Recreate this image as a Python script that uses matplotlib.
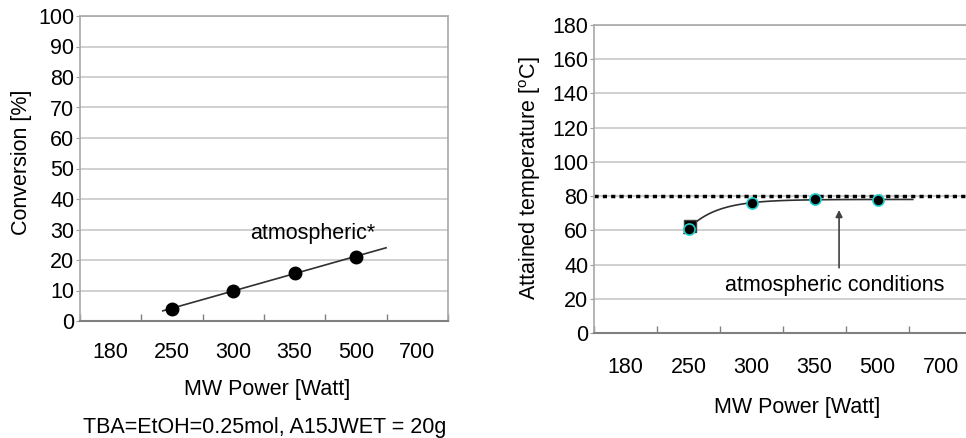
import numpy as np
import matplotlib
matplotlib.use("Agg")
import matplotlib.pyplot as plt

plt.rcParams['font.family'] = ['Liberation Sans', 'DejaVu Sans']

power_labels = ["180", "250", "300", "350", "500", "700"]

# left panel: conversion at atmospheric pressure
conv_idx = [1, 2, 3, 4]
conversion = [4.0, 10.0, 15.8, 21.0]

# right panel: attained temperature
temp_idx = [1, 2, 3, 4]
temperature = [61.0, 76.0, 78.5, 77.5]
square_idx = [1]
square_temp = [62.5]
atm_temp = 80.0

W, H = 966, 438
FS = 15.5
fig = plt.figure(figsize=(W / 100, H / 100), dpi=100)

def px_axes(l, t, r, b):
    return fig.add_axes([l / W, 1 - b / H, (r - l) / W, (b - t) / H])

def px_text(x, y, s, **kw):
    fig.text(x / W, 1 - y / H, s, fontsize=FS, ha='center', va='center', **kw)

def style(ax, ymax, ystep, xpad):
    ax.set_xlim(-0.5, 5.5)
    ax.set_ylim(0, ymax)
    ax.set_yticks(np.arange(0, ymax + 1, ystep))
    ax.set_xticks(np.arange(6))
    ax.set_xticklabels(power_labels)
    ax.set_xticks(np.arange(-0.5, 6, 1), minor=True)
    ax.tick_params(axis='x', which='major', length=0, pad=xpad, labelsize=FS)
    ax.tick_params(axis='x', which='minor', direction='in', length=5,
                   color='#808080', width=1)
    ax.tick_params(axis='y', length=3, color='#a0a0a0', labelsize=FS, pad=1)
    ax.grid(axis='y', color='#c8c8c8', linewidth=1.2)
    ax.set_axisbelow(True)
    for s in ['left', 'top', 'right']:
        ax.spines[s].set_color('#a8a8a8')
        ax.spines[s].set_linewidth(1.2)
    ax.spines['bottom'].set_color('#808080')
    ax.spines['bottom'].set_linewidth(1.5)

# ---- left panel
ax1 = px_axes(80, 16, 448, 321)
style(ax1, 100, 10, 15)
fit = np.polyfit(conv_idx, conversion, 1)
xl = np.array([0.85, 4.49])
ax1.plot(xl, np.polyval(fit, xl), color='#303030', linewidth=1.2, zorder=3)
ax1.plot(conv_idx, conversion, 'o', color='black', markersize=9, zorder=4)
ax1.text(3.3, 28.8, "atmospheric*", fontsize=FS, ha='center', va='center')
px_text(22, 162, "Conversion [%]", rotation=90)
px_text(267, 390, "MW Power [Watt]")
px_text(265, 427, "TBA=EtOH=0.25mol, A15JWET = 20g")

# ---- right panel
ax2 = px_axes(594, 25, 972, 333)
style(ax2, 180, 20, 17)
ax2.axhline(atm_temp, color='black', linestyle=(0, (1.2, 1.2)), linewidth=2.5,
            zorder=2)
# saturation trend fitted to the data: y = a - b*exp(-k*x)
tx = np.array(temp_idx, float)
ty = np.array(temperature)
best = None
for k in np.linspace(0.3, 4, 200):
    A = np.column_stack([np.ones_like(tx), -np.exp(-k * tx)])
    coef, res, *_ = np.linalg.lstsq(A, ty, rcond=None)
    err = np.sum((A @ coef - ty) ** 2)
    if best is None or err < best[0]:
        best = (err, k, coef)
_, k, (a, b) = best
xc = np.linspace(0.93, 4.56, 100)
ax2.plot(xc, a - b * np.exp(-k * xc), color='#303030', linewidth=1.2, zorder=3)
ax2.plot(np.array(square_idx) + 0.03, square_temp, 's', color='black',
         markersize=9, markeredgecolor='#404040', zorder=4)
ax2.plot(temp_idx, temperature, 'o', color='black', markersize=8,
         markeredgecolor='#20d0d0', markeredgewidth=1.2, zorder=5)
ax2.annotate("", xy=(3.39, 73.5), xytext=(3.39, 36.5),
             arrowprops=dict(arrowstyle='-|>', color='#404040', lw=1.2,
                             mutation_scale=10))
ax2.text(3.32, 28, "atmospheric conditions", fontsize=FS, ha='center',
         va='center')
px_text(530, 178, "Attained temperature [$\\mathregular{^o}$C]", rotation=90)
px_text(797, 408, "MW Power [Watt]")

fig.savefig("out.png", dpi=100)
